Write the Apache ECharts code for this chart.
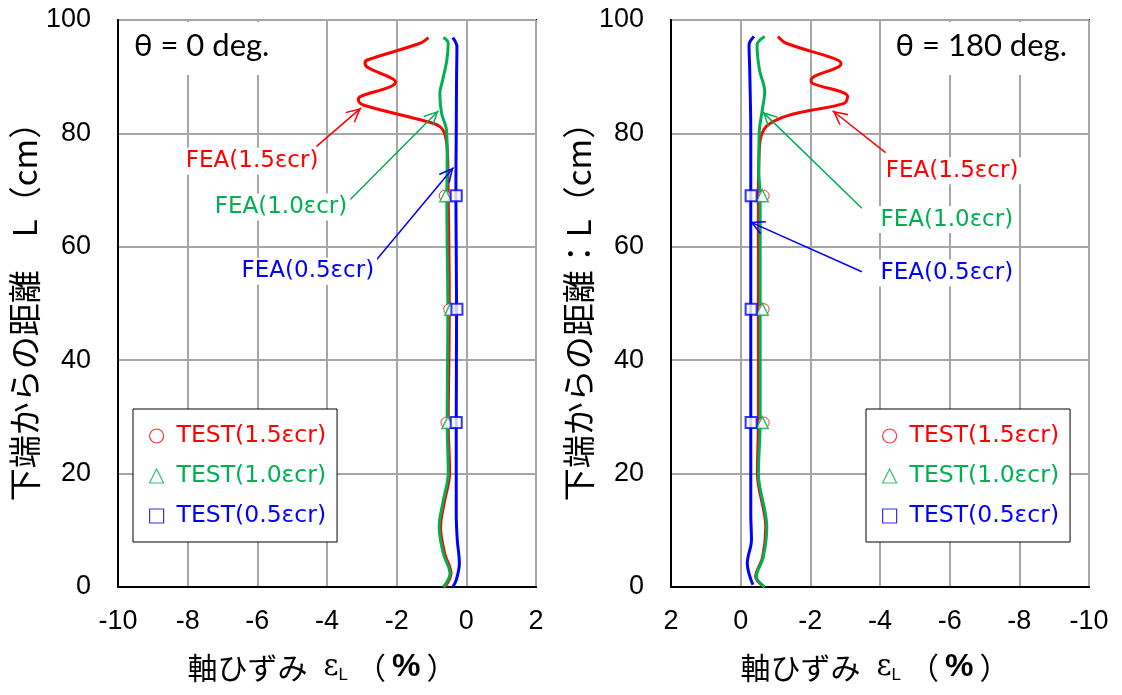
<!DOCTYPE html>
<html><head><meta charset="utf-8">
<script src="https://cdn.jsdelivr.net/npm/echarts@6/dist/echarts.min.js"></script>
<style>html,body{margin:0;padding:0;background:#fff}#c{width:1122px;height:695px}</style>
</head><body><div id="c"></div>
<script>
// ---------- axis ticks ----------
const xMin = -10, xMax = 2, xStep = 2;
const yMin = 0, yMax = 100, yStep = 20;

// ---------- θ = 0 deg. (left) ----------
const L_fea15 = [[-1.09,96.9],[-1.33,95.9],[-2.86,92.9],[-2.91,92.3],[-2.14,89.7],[-2.03,89.1],[-2.19,88.2],[-3.05,86.5],[-3.10,85.9],[-2.96,85.0],[-1.14,82.1],[-0.76,81.2],[-0.61,79.7],[-0.54,76.5],[-0.52,69],[-0.50,60],[-0.49,49],[-0.50,40],[-0.52,29],[-0.48,20],[-0.62,15.3],[-0.74,10.6],[-0.62,5.9],[-0.44,2.4],[-0.62,0]];
const L_fea10 = [[-0.66,96.9],[-0.52,95.9],[-0.56,92.9],[-0.68,89.4],[-0.76,87.1],[-0.71,83.5],[-0.57,80.6],[-0.55,76.5],[-0.56,69],[-0.55,60],[-0.53,49],[-0.54,40],[-0.55,29],[-0.52,20],[-0.66,15.3],[-0.78,10.6],[-0.66,5.9],[-0.47,2.4],[-0.66,0]];
const L_fea05 = [[-0.39,96.9],[-0.27,95.3],[-0.28,90],[-0.29,80],[-0.30,69],[-0.28,49],[-0.29,29],[-0.29,13],[-0.26,8.3],[-0.20,4.2],[-0.29,1.2],[-0.39,0]];
const L_test15 = [[-0.62,69],[-0.49,49],[-0.57,29]];
const L_test10 = [[-0.59,69],[-0.45,49],[-0.53,29]];
const L_test05 = [[-0.29,69],[-0.27,49],[-0.29,29]];
const L_arrows = [[[-4.30,77.7],[-3.02,84.5]], [[-3.34,68.3],[-0.80,84.0]], [[-2.62,57.4],[-0.37,74.0]]];
const L_labelPos = [[-6.15,75.1],[-5.32,67.0],[-4.55,55.7]];

// ---------- θ = 180 deg. (right) ----------
const R_fea15 = [[-1.07,97.1],[-1.31,95.9],[-2.69,93.2],[-2.88,92.4],[-2.83,91.8],[-2.02,89.4],[-2.07,88.8],[-3.07,86.5],[-2.97,85.3],[-1.78,83.8],[-1.11,82.6],[-0.69,80.9],[-0.54,77.7],[-0.51,69],[-0.51,49],[-0.51,29],[-0.48,20],[-0.72,10.6],[-0.63,5.3],[-0.43,1.8],[-0.68,0]];
const R_fea10 = [[-0.69,97.1],[-0.47,95.6],[-0.54,91.2],[-0.69,87.4],[-0.62,84.1],[-0.53,80.0],[-0.52,73.5],[-0.56,69],[-0.56,49],[-0.56,29],[-0.51,20],[-0.75,10.6],[-0.65,5.3],[-0.45,1.8],[-0.69,0]];
const R_fea05 = [[-0.38,97.1],[-0.24,95.6],[-0.26,91.2],[-0.29,80],[-0.29,64.7],[-0.29,49],[-0.29,29],[-0.29,13],[-0.31,8.3],[-0.19,4.2],[-0.35,0.4]];
const R_test15 = [[-0.66,69],[-0.66,49],[-0.66,29]];
const R_test10 = [[-0.62,69],[-0.62,49],[-0.62,29]];
const R_test05 = [[-0.30,69],[-0.30,49],[-0.30,29]];
const R_arrows = [[[-4.16,76.6],[-2.64,84.0]], [[-3.48,66.8],[-0.63,83.8]], [[-3.48,55.6],[-0.27,64.4]]];
const R_labelPos = [[-6.07,73.4],[-5.92,64.8],[-5.92,55.4]];

// ---------- names ----------
const feaNames = ['FEA(1.5εcr)','FEA(1.0εcr)','FEA(0.5εcr)'];
const testNames = ['TEST(1.5εcr)','TEST(1.0εcr)','TEST(0.5εcr)'];
const titles = ['θ = 0 deg.','θ = 180 deg.'];
const yNames = ['下端からの距離　L（cm）','下端からの距離：L（cm）'];
const xName = '{j|軸ひずみ}{e|ε}{s|L}{p|（}{b|%}{p|）}';

const RED = '#FF0000', GREEN = '#00B050', BLUE = '#0000FF';
const colors = [RED, GREEN, BLUE];
const ARROW = 'path://M0,0 L10,15 L8.4,16.2 L0,3.6 L-8.4,16.2 L-10,15 Z M0,-16.2 L0.02,-16.2 L0,-16.18 Z';
const labelFont = 'DejaVu Sans';

function feaSeries(gi, data, k, arrow, lpos) {
  return {
    type: 'line', name: feaNames[k], xAxisIndex: gi, yAxisIndex: gi,
    data: data, showSymbol: false, symbol: 'none', smooth: 0.35,
    lineStyle: {color: colors[k], width: 3}, itemStyle: {color: colors[k]},
    z: 2 + k, silent: true,
    markLine: {
      silent: true, symbol: ['none', ARROW], symbolSize: [14, 30], animation: false,
      lineStyle: {color: colors[k], width: 1.5, type: 'solid'},
      label: {show: false}, emphasis: {disabled: true},
      data: [[{coord: arrow[0]}, {coord: arrow[1]}]]
    },
    markPoint: {
      silent: true, symbol: 'rect', symbolSize: 1, animation: false,
      itemStyle: {color: 'rgba(0,0,0,0)'},
      label: {show: true, position: 'inside', formatter: feaNames[k], color: colors[k],
        fontFamily: labelFont, fontSize: 23, backgroundColor: '#fff', padding: [2, 3, 2, 3]},
      data: [{coord: lpos}]
    }
  };
}
function testSeries(gi, data, k) {
  const sym = ['circle', 'triangle', 'rect'][k];
  const size = [11, 12, 11][k];
  const bw = [1, 1.5, 2][k];
  return {
    type: 'scatter', name: testNames[k], xAxisIndex: gi, yAxisIndex: gi,
    data: data, symbol: sym, symbolSize: size, z: 6 + k, silent: true,
    itemStyle: {color: '#fff', borderColor: colors[k], borderWidth: bw}
  };
}

const sets = [
  {fea: [L_fea15, L_fea10, L_fea05], test: [L_test15, L_test10, L_test05], arrows: L_arrows, lpos: L_labelPos},
  {fea: [R_fea15, R_fea10, R_fea05], test: [R_test15, R_test10, R_test05], arrows: R_arrows, lpos: R_labelPos}
];
const series = [];
sets.forEach((s, gi) => {
  for (let k = 0; k < 3; k++) series.push(feaSeries(gi, s.fea[k], k, s.arrows[k], s.lpos[k]));
  for (let k = 0; k < 3; k++) series.push(testSeries(gi, s.test[k], k));
});

const tickFont = {fontFamily: 'Liberation Sans', fontSize: 27, color: '#000'};
function xAxis(gi) {
  return {
    type: 'value', gridIndex: gi, min: xMin, max: xMax, interval: xStep, inverse: gi === 1,
    axisLine: {show: true, onZero: false, lineStyle: {color: '#000', width: 2}},
    axisTick: {show: false},
    axisLabel: Object.assign({margin: 21}, tickFont),
    splitLine: {show: true, lineStyle: {color: '#A6A6A6', width: 2}},
    name: xName, nameLocation: 'middle', nameGap: 64,
    nameTextStyle: {fontFamily: 'Noto Sans CJK JP', fontSize: 30, color: '#000', padding: [0, 10, 0, 0],
      rich: {
        j: {fontFamily: 'Noto Sans CJK JP', fontSize: 30, color: '#000'},
        e: {fontFamily: 'DejaVu Serif', fontSize: 29, color: '#000', padding: [0, 0, 0, 16]},
        s: {fontFamily: 'Liberation Sans', fontSize: 17, color: '#000', verticalAlign: 'bottom', padding: [16, 8, 0, 0]},
        p: {fontFamily: 'Noto Sans CJK JP', fontSize: 30, color: '#000'},
        b: {fontFamily: 'Liberation Sans', fontSize: 32, fontWeight: 'bold', color: '#000', padding: [0, 6, 0, 6]}
      }}
  };
}
function yAxis(gi) {
  return {
    type: 'value', gridIndex: gi, min: yMin, max: yMax, interval: yStep,
    axisLine: {show: true, onZero: false, lineStyle: {color: '#000', width: 2}},
    axisTick: {show: false},
    axisLabel: Object.assign({margin: 27}, tickFont),
    splitLine: {show: true, lineStyle: {color: '#A6A6A6', width: 2}},
    name: yNames[gi], nameLocation: 'middle', nameGap: gi === 0 ? 77 : 75, nameRotate: 90,
    nameTextStyle: {fontFamily: 'Noto Sans CJK JP', fontSize: 33, color: '#000'}
  };
}
function legend(left) {
  return {
    left: left, top: 409, orient: 'vertical', selectedMode: false,
    backgroundColor: '#fff', borderColor: '#000', borderWidth: 1, borderRadius: 0,
    padding: [15, 11, 14, 16], itemWidth: 14, itemHeight: 14, itemGap: 16,
    textStyle: {fontFamily: labelFont, fontSize: 23.5, padding: [0, 0, 0, 8]},
    data: testNames.map((n, k) => ({
      name: n, icon: ['circle', 'triangle', 'rect'][k],
      itemStyle: {color: '#fff', borderColor: colors[k], borderWidth: 1.2},
      textStyle: {color: colors[k]}
    }))
  };
}

const chart = echarts.init(document.getElementById('c'), null, {renderer: 'canvas'});
chart.setOption({
  animation: false,
  backgroundColor: '#fff',
  title: [
    {text: titles[0], left: 124, top: 22, padding: [8, 10, 14, 10], backgroundColor: '#fff',
      textStyle: {fontFamily: 'Lato', fontSize: 31, fontWeight: 'normal', color: '#000'}},
    {text: titles[1], right: 45, top: 22, padding: [8, 10, 14, 10], backgroundColor: '#fff',
      textStyle: {fontFamily: 'Lato', fontSize: 31, fontWeight: 'normal', color: '#000'}}
  ],
  legend: [legend(133), legend(866)],
  grid: [
    {left: 118, top: 20, width: 418, height: 567, show: true, borderColor: '#000', borderWidth: 2, backgroundColor: 'transparent'},
    {left: 671, top: 20, width: 418, height: 567, show: true, borderColor: '#000', borderWidth: 2, backgroundColor: 'transparent'}
  ],
  xAxis: [xAxis(0), xAxis(1)],
  yAxis: [yAxis(0), yAxis(1)],
  series: series
});
</script></body></html>
